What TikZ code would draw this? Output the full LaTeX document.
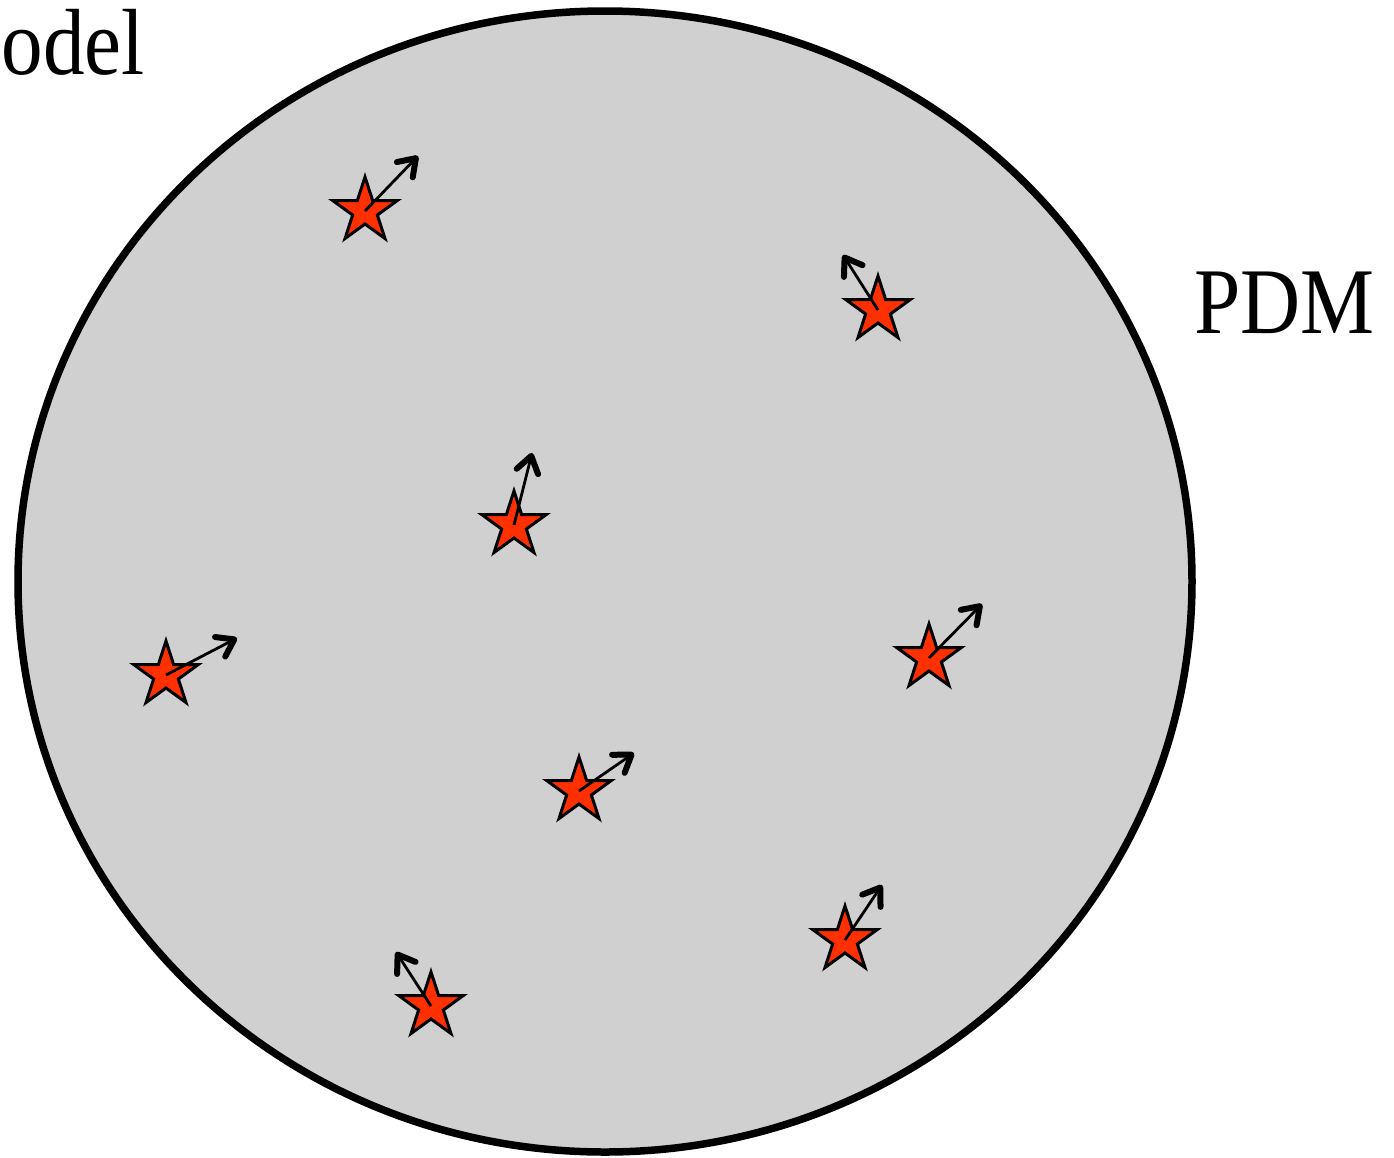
\documentclass[tikz,border=0pt]{standalone}
\usepackage{fontspec}
\setmainfont{Liberation Serif}
\usetikzlibrary{shapes.geometric, arrows.meta}
\definecolor{diskgray}{RGB}{208,208,208}
\definecolor{starred}{RGB}{255,48,0}

\begin{document}
\begin{tikzpicture}[x=0.5pt, y=-0.5pt, font=\fontsize{47}{56}\selectfont,
  label text/.style={inner sep=0pt, xscale=0.885},
  body/.style={star, star points=5, star point ratio=2.618, minimum size=34pt,
    inner sep=0pt, draw=black, line width=1.5pt, fill=starred},
  velocity/.style={-{Straight Barb[length=8pt, width=11pt, line width=3pt, round]},
    line width=1.4pt}]
\useasboundingbox (0,0) rectangle (1394,1158);
% the halo
\draw[line width=3.75pt, fill=diskgray] (605,581.5) ellipse [x radius=587, y radius=570.5];
% labels
\node[label text, anchor=base east] (model) at (145,74) {Model};
\node[label text, anchor=base west] (pdm) at (1194,333) {PDM};
% bodies and their velocities
\foreach \i/\sx/\sy/\tx/\ty in {1/365/211/418/156, 2/878/310/843/255,
    3/514/525/532/453, 4/166/675/237/638, 5/929/658/982/604,
    6/579/791/634/753, 7/845/940/882/885, 8/431/1006/396/952} {
  \node[body] (s\i) at (\sx,\sy) {};
  \coordinate (t\i) at (\tx,\ty);
  \draw[velocity] (s\i.center) -- (t\i);
}
\end{tikzpicture}
\end{document}
